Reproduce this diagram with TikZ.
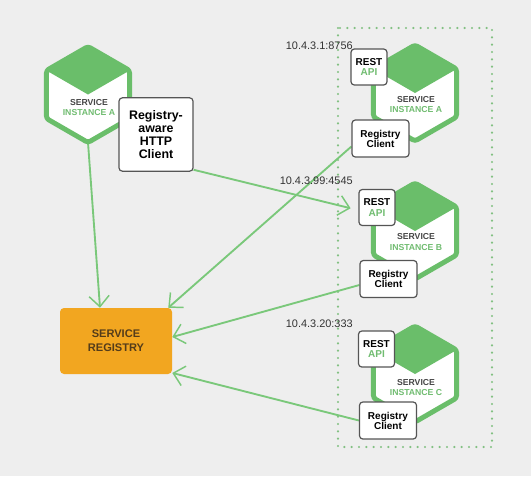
\documentclass[tikz,border=0pt]{standalone}
\usepackage{fontspec}
\setmainfont{Liberation Sans}
\usetikzlibrary{positioning, arrows.meta, shapes.geometric, backgrounds}

\definecolor{hexgreen}{RGB}{106,190,106}
\definecolor{linegreen}{RGB}{122,200,122}
\definecolor{dotgreen}{RGB}{130,192,130}
\definecolor{textgreen}{RGB}{112,188,112}
\definecolor{regorange}{RGB}{242,166,32}
\definecolor{regtext}{RGB}{84,60,26}
\definecolor{boxgray}{RGB}{85,85,85}
\definecolor{bggray}{RGB}{238,238,238}
\definecolor{svcgray}{RGB}{70,70,70}

\begin{document}
\begin{tikzpicture}[x=0.75pt, y=-0.75pt,
  hexbox/.style={regular polygon, regular polygon sides=6, regular polygon rotate=30,
    draw=hexgreen, fill=white, line width=3.7pt, minimum size=72pt,
    inner sep=0pt, outer sep=0pt, rounded corners=2pt},
  svc/.style={font=\fontsize{6.5}{8.2}\selectfont\bfseries, text=svcgray,
    align=center, inner sep=0pt},
  box/.style={draw=boxgray, fill=white, line width=0.9pt, rounded corners=2.5pt,
    font=\fontsize{7.5}{7.6}\selectfont\bfseries, align=center, inner sep=1pt},
  addr/.style={font=\fontsize{8.2}{9}\selectfont, text=black!80, anchor=east, inner sep=0pt},
  arrow/.style={-{Straight Barb[length=8pt, width=15pt, line width=1.1pt]},
    draw=linegreen, line width=1.4pt}
]
\useasboundingbox (0,0) rectangle (531,476);

% Client side: service instance with registry-aware client
\node[hexbox] (hexL) at (88,94.5) {};
\fill[hexgreen] (hexL.center) -- +(150:36pt) -- +(90:36pt) -- +(30:36pt) -- cycle;
\node[svc] (svcL) at (89,107.5) {SERVICE\\\textcolor{textgreen}{INSTANCE A}};
\node[box, minimum width=55.5pt, minimum height=55pt,
  font=\fontsize{9.3}{9.8}\selectfont\bfseries] (http) at (156,134.5) {Registry-\\aware\\HTTP\\Client};

% Service registry
\node[fill=regorange, rounded corners=3pt, minimum width=84pt, minimum height=49.5pt,
  font=\fontsize{8.3}{10.5}\selectfont\bfseries, text=regtext, align=center] (reg) at (116,341) {SERVICE\\REGISTRY};

% Instance A
\node[hexbox] (hexA) at (415,93) {};
\fill[hexgreen] (hexA.center) -- +(150:36pt) -- +(90:36pt) -- +(30:36pt) -- cycle;
\node[svc] (svcA) at (416,104.5) {SERVICE\\\textcolor{textgreen}{INSTANCE A}};
\node[box, minimum width=27pt, minimum height=27pt] (restA) at (369,67) {REST\\\textcolor{textgreen}{API}};
\node[box, minimum width=42.75pt, minimum height=27.75pt] (regA) at (380.5,138.5) {Registry\\Client};
\node[addr] (ipA) at (353,46) {10.4.3.1:8756};

% Instance B
\node[hexbox] (hexB) at (415,231) {};
\fill[hexgreen] (hexB.center) -- +(150:36pt) -- +(90:36pt) -- +(30:36pt) -- cycle;
\node[svc] (svcB) at (416,242) {SERVICE\\\textcolor{textgreen}{INSTANCE B}};
\node[box, minimum width=27pt, minimum height=27pt] (restB) at (377,207.5) {REST\\\textcolor{textgreen}{API}};
\node[box, minimum width=42.75pt, minimum height=27.75pt] (regB) at (388.5,279) {Registry\\Client};
\node[addr] (ipB) at (353,181) {10.4.3.99:4545};

% Instance C
\node[hexbox] (hexC) at (415,374) {};
\fill[hexgreen] (hexC.center) -- +(150:36pt) -- +(90:36pt) -- +(30:36pt) -- cycle;
\node[svc] (svcC) at (416,387.5) {SERVICE\\\textcolor{textgreen}{INSTANCE C}};
\node[box, minimum width=27pt, minimum height=27pt] (restC) at (376.5,349) {REST\\\textcolor{textgreen}{API}};
\node[box, minimum width=42.75pt, minimum height=27.75pt] (regC) at (388,420.5) {Registry\\Client};
\node[addr] (ipC) at (353,324) {10.4.3.20:333};

\begin{scope}[on background layer]
% Background and instance group
\fill[bggray] (0,0) rectangle (531,476);
\draw[dotgreen, line width=1.8pt, line cap=round, dash pattern=on 0pt off 5.5pt] (338,28) rectangle (492,447);

% Registration and lookup
\draw[arrow] (hexL.south) -- ([xshift=-12pt]reg.north);
\draw[arrow] ([yshift=-6pt]regA.west) -- ([xshift=-3pt]reg.north east);
\draw[arrow, shorten >=6pt] ([yshift=1.5pt]http.south east) -- ([yshift=-2pt]restB.west);
\draw[arrow] ([yshift=-4.5pt]regB.west) -- ([yshift=3pt]reg.east);
\draw[arrow] (regC.west) -- ([yshift=1pt]reg.south east);
\end{scope}

\end{tikzpicture}
\end{document}
